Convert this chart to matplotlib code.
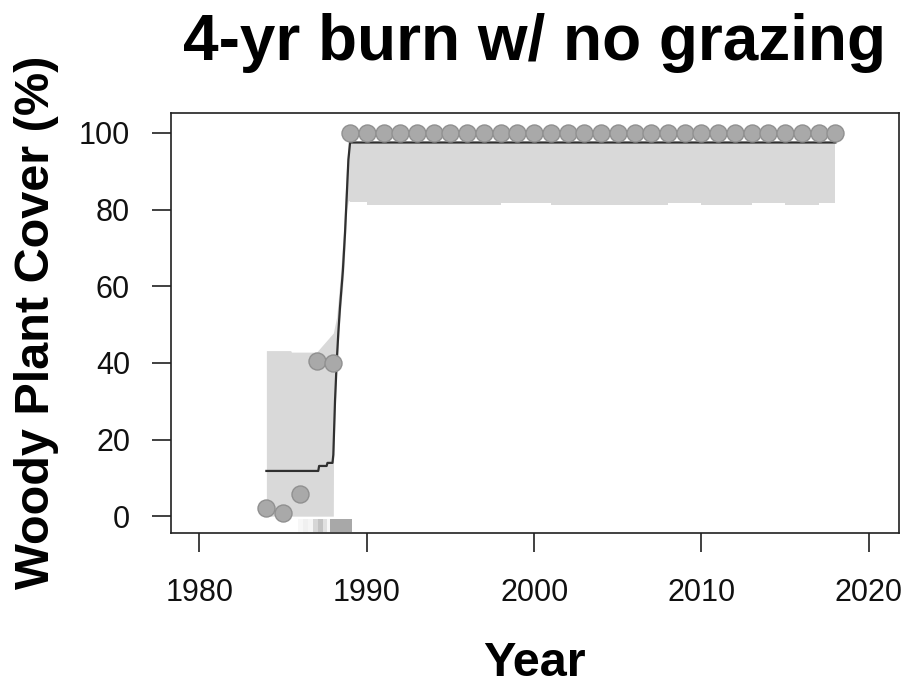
import numpy as np
import matplotlib
matplotlib.use("Agg")
import matplotlib.pyplot as plt

plt.rcParams["font.family"] = ["Liberation Sans", "DejaVu Sans"]

# observed woody cover per year
obs_years = list(range(1984, 2019))
obs_cover = [2.1, 0.9, 5.7, 40.5, 39.9] + [100.0] * 30

# fitted trajectory
fit_years = [1984, 1987.1, 1987.15, 1987.6, 1987.65, 1987.95, 1988.0, 1988.1,
             1988.2, 1988.3, 1988.4, 1988.57, 1988.7, 1988.8, 1988.9, 1989.0, 2018]
fit_cover = [11.8, 11.8, 13.1, 13.1, 13.9, 13.9, 16.0, 30.0,
             40.0, 48.0, 54.6, 64.0, 74.0, 83.4, 93.0, 97.5, 97.5]

# credible band, transition period
band_years = [1984, 1985.45, 1985.5, 1987.0, 1988.0, 1988.01, 1988.2, 1988.4,
              1988.6, 1988.7, 1988.8, 1988.9, 1989.0]
band_upper = [43.2, 43.2, 42.8, 42.8, 47.8, 48.0, 52.0, 61.6,
              74.0, 83.4, 92.0, 97.5, 97.5]
band_lower = [0.0, 0.0, 0.0, 0.0, 0.0, 14.0, 38.0, 52.0,
              62.0, 70.0, 80.0, 82.3, 82.3]

# credible band after closure, one value per year
late_years = list(range(1989, 2019))
late_upper = [97.5] * 30
late_lower = ([81.9] + [81.3] * 8 + [81.6] * 3 + [81.3] * 7 + [81.6] * 2
              + [81.3] * 3 + [81.6] * 2 + [81.3] * 2 + [81.6] * 2)

# breakpoint density strip along the x axis
rug_start = [1985.9, 1986.2, 1986.5, 1986.8, 1987.1, 1987.4, 1987.6, 1987.8]
rug_end = [1986.2, 1986.5, 1986.8, 1987.1, 1987.4, 1987.6, 1987.8, 1989.1]
rug_shade = [0.03, 0.06, 0.04, 0.16, 0.24, 0.12, 0.03, 0.34]

fig = plt.figure(figsize=(9.12, 6.86), dpi=100)
ax = fig.add_axes([0.1875, 0.2230, 0.7982, 0.6123])

ax.fill_between(band_years, band_lower, band_upper, color="#d9d9d9", lw=0)
ax.fill_between(late_years, late_lower, late_upper, step="post",
                color="#d9d9d9", lw=0)

widths = np.array(rug_end) - np.array(rug_start)
ax.bar(rug_start, 3.3, width=widths, bottom=-4.1, align="edge",
       color=[str(1 - s) for s in rug_shade], lw=0)

ax.plot(fit_years, fit_cover, color="#303030", lw=1.6)
ax.scatter(obs_years, obs_cover, s=150, facecolor="#a9a9a9",
           edgecolor="#909090", lw=1.0, zorder=3)

ax.set_xlim(1978.3, 2021.8)
ax.set_ylim(-4.4, 105.2)
ax.set_xticks(range(1980, 2021, 10))
ax.set_yticks(range(0, 101, 20))
ax.tick_params(axis="both", labelsize=22, length=13.5, width=1.2,
               color="#202020", labelcolor="#111111")
ax.tick_params(axis="x", pad=19)
ax.tick_params(axis="y", pad=16)
for sp in ax.spines.values():
    sp.set_linewidth(1.2)
    sp.set_color("#202020")

fig.text(0.5866, 1 - 60 / 686, "4-yr burn w/ no grazing", ha="center",
         va="baseline", fontsize=46, fontweight="bold")
fig.text(0.5866, 1 - 676 / 686, "Year", ha="center", va="baseline",
         fontsize=35, fontweight="bold")
fig.text(0.040, 0.53, "Woody Plant Cover (%)", ha="center", va="center",
         rotation=90, fontsize=35, fontweight="bold")

fig.savefig("out.png", dpi=100)
